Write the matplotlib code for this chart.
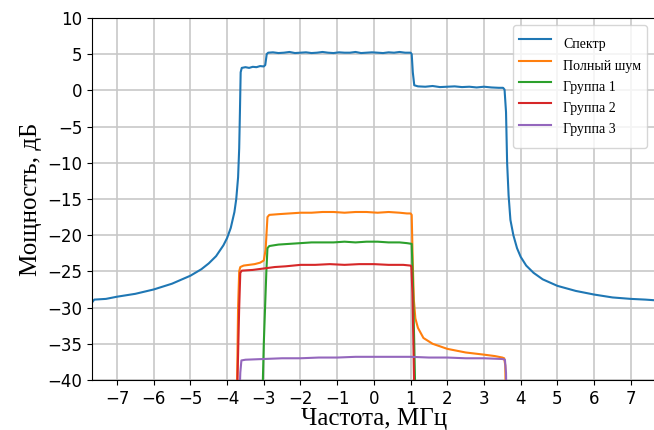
import matplotlib
matplotlib.use("Agg")
import matplotlib.pyplot as plt

# Частоты (МГц) и уровни (дБ)
spec_x = [-7.68, -7.62, -7.3, -7.0, -6.5, -6.0, -5.5, -5.0, -4.7, -4.5, -4.3, -4.1, -4.0,
          -3.9, -3.8, -3.75, -3.7, -3.67, -3.65, -3.63, -3.6, -3.5, -3.4, -3.3, -3.2,
          -3.1, -3.0, -2.96, -2.92, -2.88, -2.75, -2.6, -2.45, -2.3, -2.15, -2.0, -1.85,
          -1.7, -1.55, -1.4, -1.25, -1.1, -0.95, -0.8, -0.65, -0.5, -0.35, -0.2, -0.05,
          0.1, 0.25, 0.4, 0.55, 0.7, 0.85, 1.0, 1.03, 1.06, 1.1, 1.2, 1.4, 1.6, 1.8, 2.0,
          2.2, 2.4, 2.6, 2.8, 3.0, 3.2, 3.4, 3.52, 3.56, 3.6, 3.63, 3.67, 3.72, 3.8, 3.9,
          4.0, 4.15, 4.35, 4.6, 5.0, 5.5, 6.0, 6.5, 7.0, 7.4, 7.68]
spec_y = [-29.3, -28.9, -28.8, -28.5, -28.1, -27.5, -26.7, -25.6, -24.7, -23.9, -22.9, -21.4, -20.4,
          -19.0, -16.8, -15.0, -12.0, -8.0, -3.0, 2.5, 3.1, 3.2, 3.1, 3.25, 3.2,
          3.35, 3.3, 3.5, 5.0, 5.2, 5.25, 5.15, 5.2, 5.3, 5.15, 5.2, 5.25,
          5.15, 5.2, 5.3, 5.2, 5.15, 5.25, 5.2, 5.2, 5.3, 5.15, 5.2, 5.25,
          5.2, 5.15, 5.25, 5.2, 5.3, 5.2, 5.2, 5.0, 2.5, 0.7, 0.55, 0.5, 0.6, 0.45, 0.5,
          0.55, 0.45, 0.5, 0.4, 0.5, 0.4, 0.35, 0.35, 0.1, -3.0, -10.0, -14.5, -17.9, -20.0, -21.8,
          -23.0, -24.2, -25.2, -26.1, -27.0, -27.7, -28.2, -28.6, -28.8, -28.9, -29.0]

noise_x = [-3.74, -3.7, -3.67, -3.64, -3.55, -3.4, -3.25, -3.1, -3.0, -2.95, -2.9, -2.85,
           -2.6, -2.3, -2.0, -1.7, -1.4, -1.1, -0.8, -0.5, -0.2, 0.1, 0.4, 0.7, 0.9, 1.0,
           1.03, 1.06, 1.09, 1.13, 1.2, 1.35, 1.6, 2.0, 2.5, 3.0, 3.3, 3.5, 3.55, 3.58, 3.6]
noise_y = [-45.0, -30.0, -25.0, -24.4, -24.2, -24.1, -24.0, -23.8, -23.5, -22.0, -17.5, -17.2,
           -17.1, -17.0, -16.9, -16.9, -16.8, -16.8, -16.9, -16.8, -16.8, -16.9, -16.8, -16.9, -17.0, -17.0,
           -17.2, -24.0, -29.0, -31.5, -32.8, -34.2, -35.0, -35.7, -36.2, -36.5, -36.7, -36.9, -37.0, -38.0, -45.0]

g1_x = [-3.05, -3.0, -2.93, -2.9, -2.85, -2.6, -2.3, -2.0, -1.7, -1.4, -1.1, -0.8, -0.5,
        -0.2, 0.1, 0.4, 0.7, 0.9, 1.03, 1.06, 1.1, 1.14]
g1_y = [-45.0, -35.0, -25.0, -21.8, -21.5, -21.3, -21.2, -21.1, -21.0, -21.0, -21.0, -20.9, -21.0,
        -20.9, -20.9, -21.0, -21.0, -21.1, -21.2, -26.0, -35.0, -45.0]

g2_x = [-3.74, -3.67, -3.64, -3.6, -3.3, -3.0, -2.7, -2.4, -2.0, -1.6, -1.2, -0.8, -0.4,
        0.0, 0.4, 0.8, 1.0, 1.02, 1.05, 1.08, 1.11]
g2_y = [-45.0, -30.0, -25.2, -24.9, -24.8, -24.6, -24.4, -24.3, -24.1, -24.1, -24.0, -24.1, -24.0,
        -24.0, -24.1, -24.1, -24.2, -24.3, -28.0, -36.0, -45.0]

g3_x = [-3.68, -3.64, -3.61, -3.5, -3.0, -2.5, -2.0, -1.5, -1.0, -0.5, 0.0, 0.5, 1.0,
        1.5, 2.0, 2.5, 3.0, 3.5, 3.57, 3.6, 3.62]
g3_y = [-45.0, -39.0, -37.3, -37.2, -37.1, -37.0, -37.0, -36.9, -36.9, -36.8, -36.8, -36.8, -36.8,
        -36.9, -36.9, -37.0, -37.0, -37.1, -37.2, -39.0, -45.0]

labels = ["Спектр", "Полный шум", "Группа 1", "Группа 2", "Группа 3"]
x_ticks = list(range(-7, 8))
y_ticks = list(range(-40, 11, 5))

fig = plt.figure(figsize=(6.54, 4.30), dpi=100)
ax = fig.add_axes([0.1407, 0.1163, 0.862, 0.842])

series = [(spec_x, spec_y), (noise_x, noise_y), (g1_x, g1_y), (g2_x, g2_y), (g3_x, g3_y)]
for i, ((xs, ys), lab) in enumerate(zip(series, labels)):
    ax.plot(xs, ys, color=f"C{i}", linewidth=1.5, label=lab)

ax.set_xlim(-7.68, 7.68)
ax.set_ylim(-40, 10)
ax.set_xticks(x_ticks)
ax.set_yticks(y_ticks)
ax.tick_params(labelsize=12)
ax.grid(True, color="#c8c8c8", linewidth=1.2)
ax.set_axisbelow(True)

serif = ["Liberation Serif", "DejaVu Serif"]
ax.set_xlabel("Частота, МГц", fontsize=18, family=serif, labelpad=0)
ax.set_ylabel("Мощность, дБ", fontsize=18, family=serif, labelpad=4)
ax.legend(loc="upper right", prop={"family": serif, "size": 10},
          handleheight=2.6, labelspacing=-0.4, handlelength=2.3, handletextpad=0.9,
          bbox_to_anchor=(647 / 654, 1 - 25 / 430), bbox_transform=fig.transFigure,
          borderaxespad=0)

fig.savefig("out.png", dpi=100)
